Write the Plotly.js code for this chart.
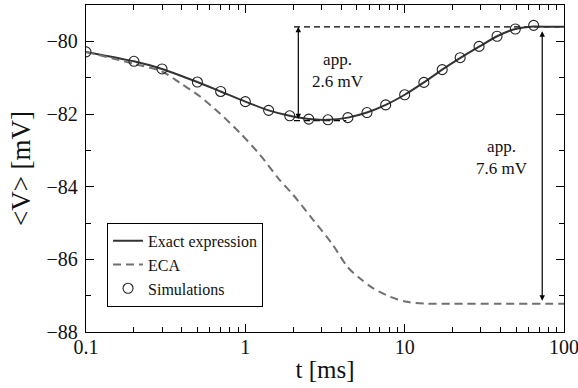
<!DOCTYPE html>
<html>
<head>
<meta charset="utf-8">
<script src="https://cdn.plot.ly/plotly-3.0.1.min.js"></script>
<style>
  html, body { margin: 0; padding: 0; background: #fff; }
  #chart { width: 578px; height: 388px; }
</style>
</head>
<body>
<div id="chart"></div>
<script>
// Exact expression for the mean membrane potential <V>(t)
const exactT = [0.1, 0.2, 0.3, 0.5, 0.7, 1, 1.4, 1.9, 2.5, 3.3, 4.4, 5.8, 7.6, 10, 13.2, 17.2, 22.5, 29.5, 38, 49.5, 64.5, 80, 100];
const exactV = [-80.29, -80.55, -80.76, -81.12, -81.38, -81.66, -81.90, -82.05, -82.14, -82.16, -82.10, -81.96, -81.75, -81.47, -81.13, -80.78, -80.45, -80.14, -79.86, -79.66, -79.59, -79.6, -79.6];

// ECA approximation
const ecaT = [0.1, 0.2, 0.3, 0.39, 0.52, 0.69, 0.93, 1.24, 1.61, 2.0, 2.67, 3.5, 4.4, 5.25, 6.36, 8.09, 10.3, 13.7, 20, 40, 100];
const ecaV = [-80.29, -80.62, -80.83, -81.15, -81.52, -81.98, -82.53, -83.13, -83.77, -84.23, -84.92, -85.57, -86.22, -86.53, -86.80, -87.03, -87.17, -87.22, -87.22, -87.22, -87.22];

// Simulation results
const simT = [0.1, 0.2, 0.3, 0.5, 0.7, 1, 1.4, 1.9, 2.5, 3.3, 4.4, 5.8, 7.6, 10, 13.2, 17.2, 22.3, 29.3, 38, 49.5, 64.5];
const simV = [-80.29, -80.55, -80.76, -81.12, -81.38, -81.66, -81.90, -82.05, -82.14, -82.16, -82.10, -81.96, -81.75, -81.47, -81.13, -80.78, -80.45, -80.14, -79.86, -79.66, -79.56];

// Reference levels used for the difference markers
const plateauV = -79.6;   // long-time value of the exact expression
const minimumV = -82.18;  // minimum of the exact expression
const ecaFloorV = -87.22; // long-time value of the ECA curve
const guideUpperT = [2.02, 94];
const guideLowerT = [2.02, 4.3];
const dipArrowT = 2.15;
const totalArrowT = 73;
const labels = ['app.<br>2.6 mV', 'app.<br>7.6 mV'];
const labelT = [3.8, 40.6];
const labelV = [-80.8, -83.2];

const serif = "'Liberation Serif', 'Times New Roman', serif";

const traces = [
  {
    x: guideUpperT, y: [plateauV, plateauV], mode: 'lines', showlegend: false,
    line: { color: '#000', width: 1.2, dash: '6px,4px' }, hoverinfo: 'skip'
  },
  {
    x: guideLowerT, y: [minimumV, minimumV], mode: 'lines', showlegend: false,
    line: { color: '#000', width: 1.2, dash: '6px,4px' }, hoverinfo: 'skip'
  },
  {
    x: exactT, y: exactV, mode: 'lines', name: 'Exact expression',
    line: { color: '#333333', width: 2, shape: 'spline', smoothing: 0.6 }
  },
  {
    x: ecaT, y: ecaV, mode: 'lines', name: 'ECA',
    line: { color: '#707070', width: 2, dash: '8px,5px', shape: 'spline', smoothing: 0.8 }
  },
  {
    x: simT, y: simV, mode: 'markers', name: 'Simulations',
    marker: { symbol: 'circle-open', size: 10, color: '#222', line: { width: 1.1, color: '#222' } }
  }
];

function arrow(t, yEnd, yStart, standoff) {
  return {
    x: Math.log10(t), y: yEnd, ax: Math.log10(t), ay: yStart,
    xref: 'x', yref: 'y', axref: 'x', ayref: 'y',
    showarrow: true, arrowside: 'end+start', arrowhead: 2, startarrowhead: 2,
    arrowsize: 0.9, startarrowsize: 0.9, arrowwidth: 1.2, arrowcolor: '#000',
    standoff: standoff, startstandoff: standoff, text: ''
  };
}

const annotations = [
  arrow(dipArrowT, plateauV, minimumV, 0),
  arrow(totalArrowT, ecaFloorV, plateauV, 3)
];
labels.forEach((txt, i) => {
  annotations.push({
    x: Math.log10(labelT[i]), y: labelV[i], xref: 'x', yref: 'y',
    text: txt, showarrow: false, align: 'center',
    font: { family: serif, size: 17, color: '#111' }
  });
});

const layout = {
  width: 578, height: 388,
  margin: { l: 86, r: 14, t: 5, b: 56 },
  paper_bgcolor: '#fff', plot_bgcolor: '#fff',
  font: { family: serif, color: '#111' },
  showlegend: true,
  legend: {
    x: 0.044, y: 0.334, xanchor: 'left', yanchor: 'top',
    bgcolor: '#fff', bordercolor: '#000', borderwidth: 1,
    font: { family: serif, size: 16, color: '#111' },
    tracegroupgap: 0
  },
  xaxis: {
    type: 'log', range: [-1, 2], dtick: 1,
    showgrid: false, zeroline: false,
    showline: true, linecolor: '#000', linewidth: 1.2, mirror: 'ticks',
    ticks: 'inside', ticklen: 8, tickwidth: 1, tickcolor: '#000',
    minor: { ticks: 'inside', ticklen: 5, tickwidth: 1, tickcolor: '#000', dtick: 'D1', showgrid: false },
    tickfont: { family: serif, size: 20, color: '#111' },
    ticklabeloverflow: 'allow', ticklabelstandoff: -3,
    title: { text: 't [ms]', font: { family: serif, size: 25, color: '#111' }, standoff: 3 }
  },
  yaxis: {
    range: [-88, -79], dtick: 2, tick0: -88,
    showgrid: false, zeroline: false,
    showline: true, linecolor: '#000', linewidth: 1.2, mirror: 'ticks',
    ticks: 'inside', ticklen: 8, tickwidth: 1, tickcolor: '#000',
    minor: { ticks: 'inside', ticklen: 5, tickwidth: 1, tickcolor: '#000', dtick: 1, showgrid: false },
    tickfont: { family: serif, size: 20, color: '#111' },
    ticklabelstandoff: 3,
    title: { text: '&lt;V&gt; [mV]', font: { family: serif, size: 27, color: '#111' }, standoff: 8 }
  },
  annotations: annotations
};

Plotly.newPlot('chart', traces, layout, { staticPlot: true, displayModeBar: false });
</script>
</body>
</html>
